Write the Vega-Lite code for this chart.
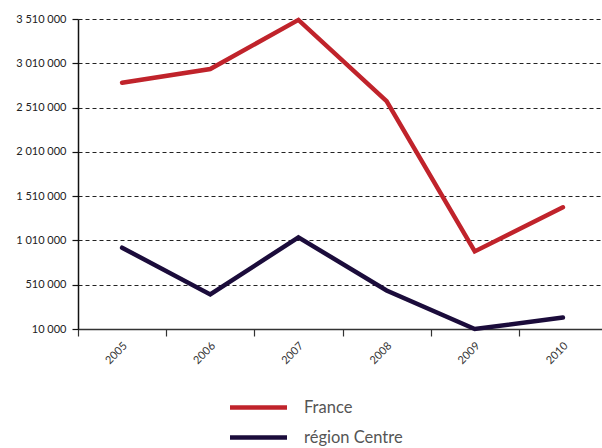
{
  "$schema": "https://vega.github.io/schema/vega-lite/v6.json",
  "autosize": {"type": "none"},
  "padding": {"left": 78, "top": 19, "right": 0, "bottom": 119},
  "width": 529,
  "height": 310,
  "background": "white",
  "config": {
    "font": "Lato",
    "view": {"stroke": null}
  },
  "data": {
    "values": [
      {"year": "2005", "series": "France", "value": 2790000},
      {"year": "2006", "series": "France", "value": 2945000},
      {"year": "2007", "series": "France", "value": 3500000},
      {"year": "2008", "series": "France", "value": 2583000},
      {"year": "2009", "series": "France", "value": 886000},
      {"year": "2010", "series": "France", "value": 1384000},
      {"year": "2005", "series": "région Centre", "value": 928000},
      {"year": "2006", "series": "région Centre", "value": 400000},
      {"year": "2007", "series": "région Centre", "value": 1045000},
      {"year": "2008", "series": "région Centre", "value": 445000},
      {"year": "2009", "series": "région Centre", "value": 10000},
      {"year": "2010", "series": "région Centre", "value": 140000}
    ]
  },
  "mark": {"type": "line", "strokeWidth": 4.5, "strokeCap": "round", "strokeJoin": "miter"},
  "encoding": {
    "x": {
      "field": "year",
      "type": "ordinal",
      "scale": {"type": "band", "paddingInner": 0, "paddingOuter": 0},
      "axis": {
        "title": null,
        "tickBand": "extent",
        "grid": false,
        "labelAngle": -45,
        "labelAlign": "center",
        "labelBaseline": "middle",
        "labelOffset": -6,
        "labelPadding": 17,
        "labelFontSize": 11,
        "labelColor": "#333",
        "tickSize": 7,
        "tickColor": "#333",
        "tickWidth": 1.2,
        "domainColor": "#333",
        "domainWidth": 1.5
      }
    },
    "y": {
      "field": "value",
      "type": "quantitative",
      "scale": {"domain": [10000, 3510000], "nice": false, "zero": false},
      "axis": {
        "title": null,
        "values": [10000, 510000, 1010000, 1510000, 2010000, 2510000, 3010000, 3510000],
        "labelExpr": "replace(format(datum.value, ','), regexp(',', 'g'), ' ')",
        "labelFontSize": 11,
        "labelColor": "#222",
        "labelPadding": 6,
        "tickSize": 6,
        "tickColor": "#111",
        "tickWidth": 1.2,
        "domainColor": "#111",
        "domainWidth": 1.5,
        "grid": true,
        "gridColor": "#222",
        "gridDash": [4, 3],
        "gridWidth": 1
      }
    },
    "color": {
      "field": "series",
      "type": "nominal",
      "scale": {"domain": ["France", "région Centre"], "range": ["#c0232b", "#1b0c3b"]},
      "legend": {
        "title": null,
        "orient": "none",
        "legendX": 168,
        "legendY": 376,
        "symbolType": "M-2.85,0H2.85",
        "symbolSize": 400,
        "symbolStrokeWidth": 4.5,
        "labelOffset": 33,
        "labelFontSize": 16.5,
        "labelColor": "#555",
        "rowPadding": 8
      }
    }
  }
}
